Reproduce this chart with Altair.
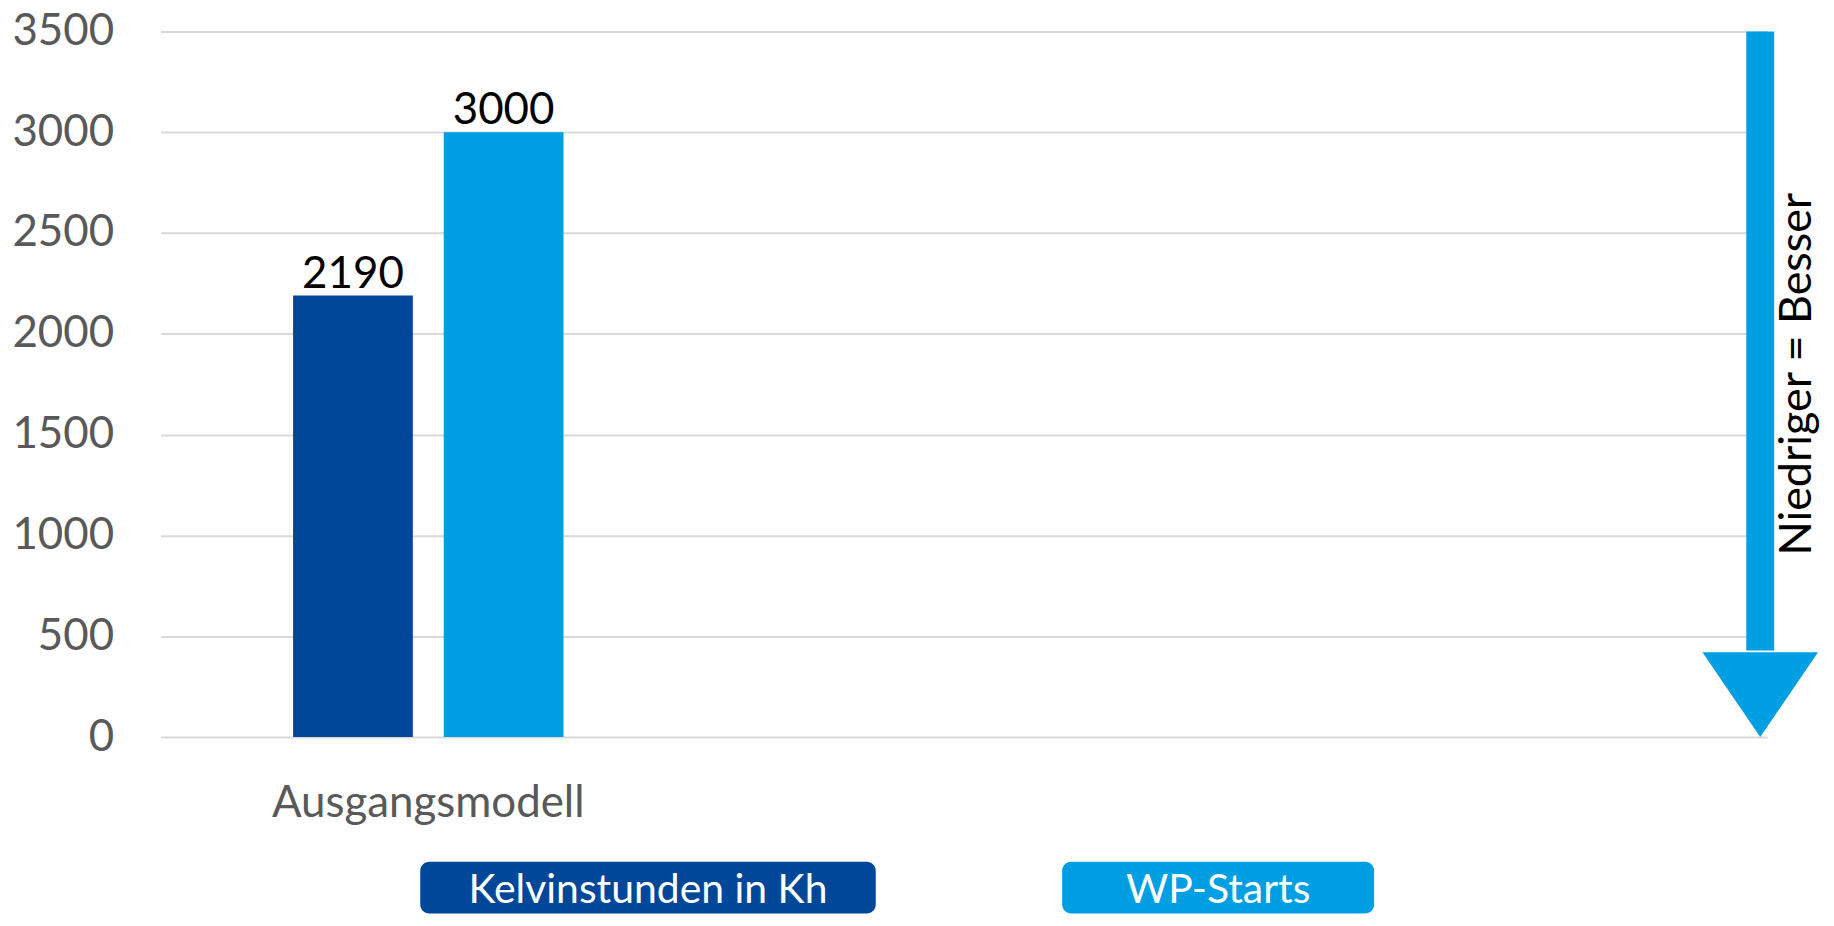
import altair as alt
import pandas as pd

# ---- data ----
categories = ["Ausgangsmodell", " ", "  "]
series = ["Kelvinstunden in Kh", "WP-Starts"]
values = [2190, 3000]
colors = ["#00479A", "#009FE3"]
y_ticks = [0, 500, 1000, 1500, 2000, 2500, 3000, 3500]

# annotation arrow ("lower = better"), in y-axis units
arrow_top = [3500]
arrow_shaft_end = [430]
arrow_tip = [0]
arrow_label = ["Niedriger = Besser"]
arrow_label_at = [1800]

FONT = "Lato"
FS = 44
GREY = "#595959"

bars_df = pd.DataFrame({
    "cat": [categories[0]] * len(series),
    "series": series,
    "value": values,
})

arrow_df = pd.DataFrame({
    "cat": [categories[-1]],
    "top": arrow_top,
    "shaft_end": arrow_shaft_end,
    "tip": arrow_tip,
    "label": arrow_label,
    "label_at": arrow_label_at,
})

W, H = 1612, 708

x_enc = alt.X("cat:N", scale=alt.Scale(domain=categories, paddingInner=0, paddingOuter=0),
              axis=alt.Axis(title=None, labelAngle=0, labelFontSize=FS, labelColor=GREY,
                            labelPadding=45, labelLimit=0, domain=False, ticks=False, grid=False))
y_scale = alt.Scale(domain=[0, 3500], nice=False)
y_axis = alt.Axis(title=None, values=y_ticks, format="d", grid=True, gridColor="#D9D9D9", gridWidth=2,
                  domain=False, ticks=False, labelFontSize=FS, labelColor=GREY, labelPadding=47)
xoff = alt.XOffset("series:N", scale=alt.Scale(domain=series, paddingInner=0.205, paddingOuter=0.88))
color_enc = alt.Color("series:N", scale=alt.Scale(domain=series, range=colors), legend=None)

base = alt.Chart(bars_df)
bars = base.mark_bar().encode(
    x=x_enc,
    xOffset=xoff,
    y=alt.Y("value:Q", scale=y_scale, axis=y_axis),
    color=color_enc,
)
labels = base.mark_text(fontSize=FS, color="black", baseline="alphabetic", dy=-8).encode(
    x=alt.X("cat:N"),
    xOffset=xoff,
    y=alt.Y("value:Q"),
    text=alt.Text("value:Q"),
)

arrow_base = alt.Chart(arrow_df)
ax = alt.X("cat:N", bandPosition=0.987)
shaft = arrow_base.mark_rule(strokeWidth=28, strokeCap="butt", color=colors[1]).encode(
    x=ax, y=alt.Y("top:Q"), y2="shaft_end:Q"
)
head = arrow_base.mark_point(
    shape="M-1,-1.466L1,-1.466L0,0Z", size=13456, filled=True, opacity=1, color=colors[1]
).encode(x=ax, y=alt.Y("tip:Q"))
arrow_text = arrow_base.mark_text(
    angle=270, fontSize=45, color="black", align="center", baseline="middle", dy=37
).encode(x=ax, y=alt.Y("label_at:Q"), text="label:N")

main = alt.layer(bars, labels, shaft, head, arrow_text).properties(width=W, height=H)

# ---- legend panel ----
leg_df = pd.DataFrame({"series": series})
leg_x = alt.X("series:N", scale=alt.Scale(domain=series, paddingInner=0, paddingOuter=0.409, align=0.434),
              axis=None)
leg_base = alt.Chart(leg_df)
box1 = leg_base.transform_filter(alt.datum.series == series[0]).mark_bar(width=457, cornerRadius=9).encode(
    x=leg_x, color=color_enc)
box2 = leg_base.transform_filter(alt.datum.series == series[1]).mark_bar(width=313, cornerRadius=9).encode(
    x=leg_x, color=color_enc)
leg_text = leg_base.mark_text(fontSize=41, color="white", baseline="middle", dy=3).encode(
    x=leg_x, text="series:N")
legend = alt.layer(box1, box2, leg_text).properties(width=W, height=52)

chart = alt.vconcat(main, legend, spacing=36).properties(
    padding={"left": 3, "top": 0, "right": 5, "bottom": 0}
).configure(font=FONT).configure_view(stroke=None)

chart.save("out.html", embed_options={"renderer": "svg", "actions": False})
